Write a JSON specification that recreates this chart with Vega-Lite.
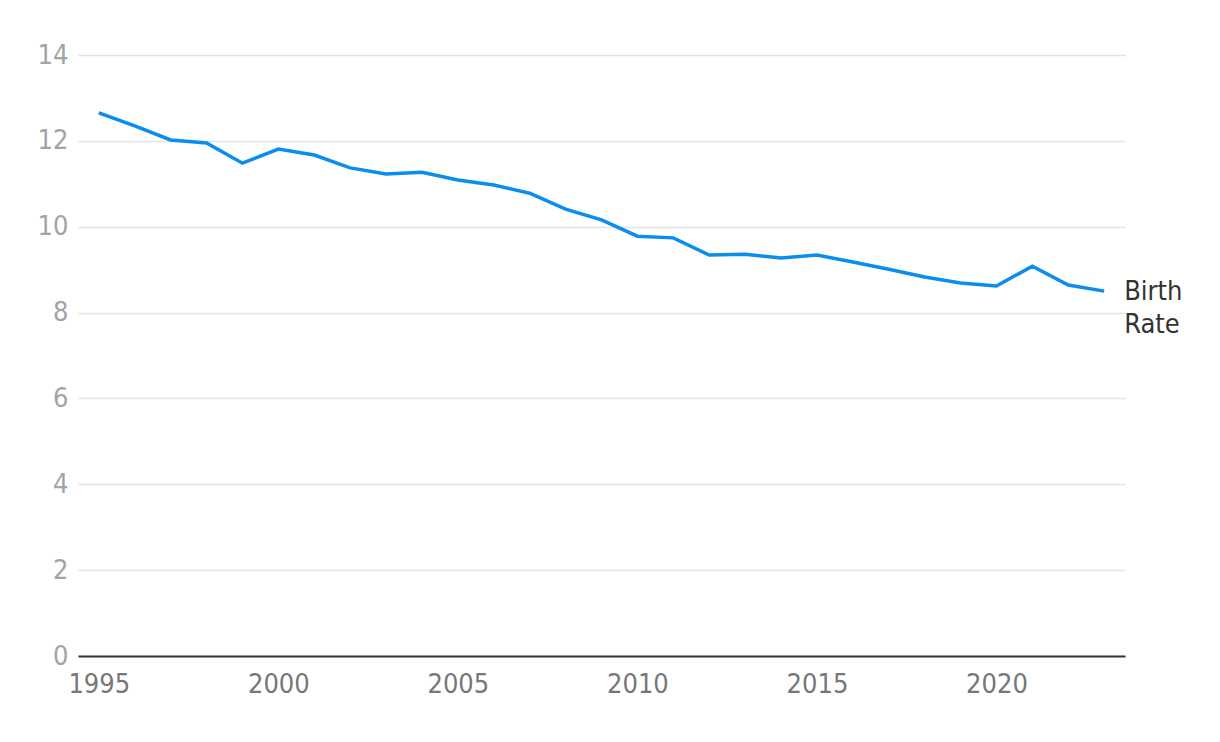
{
  "$schema": "https://vega.github.io/schema/vega-lite/v6.json",
  "autosize": {"type": "none"},
  "width": 1047,
  "height": 601,
  "padding": {"left": 78, "top": 55, "right": 95, "bottom": 86},
  "background": "white",
  "config": {
    "view": {"stroke": null},
    "font": "DejaVu Sans Condensed, Roboto, sans-serif"
  },
  "layer": [
    {
      "data": {"values": [
        {"year": 1995, "rate": 12.65},
        {"year": 1996, "rate": 12.35},
        {"year": 1997, "rate": 12.02},
        {"year": 1998, "rate": 11.95},
        {"year": 1999, "rate": 11.48},
        {"year": 2000, "rate": 11.81},
        {"year": 2001, "rate": 11.67},
        {"year": 2002, "rate": 11.37},
        {"year": 2003, "rate": 11.23},
        {"year": 2004, "rate": 11.27},
        {"year": 2005, "rate": 11.09},
        {"year": 2006, "rate": 10.97},
        {"year": 2007, "rate": 10.78},
        {"year": 2008, "rate": 10.41},
        {"year": 2009, "rate": 10.16},
        {"year": 2010, "rate": 9.78},
        {"year": 2011, "rate": 9.74},
        {"year": 2012, "rate": 9.34},
        {"year": 2013, "rate": 9.36},
        {"year": 2014, "rate": 9.27},
        {"year": 2015, "rate": 9.34},
        {"year": 2016, "rate": 9.18},
        {"year": 2017, "rate": 9.01},
        {"year": 2018, "rate": 8.83},
        {"year": 2019, "rate": 8.69},
        {"year": 2020, "rate": 8.62},
        {"year": 2021, "rate": 9.08},
        {"year": 2022, "rate": 8.64},
        {"year": 2023, "rate": 8.50}
      ]},
      "mark": {"type": "line", "color": "#0a8ded", "strokeWidth": 3.5, "strokeJoin": "miter"},
      "encoding": {
        "x": {
          "field": "year", "type": "quantitative",
          "scale": {"domain": [1994.42, 2023.58], "nice": false, "zero": false},
          "axis": {
            "title": null, "values": [1995, 2000, 2005, 2010, 2015, 2020], "format": "d",
            "grid": false, "ticks": false, "domain": true, "domainColor": "#333333", "domainWidth": 2,
            "labelFontSize": 27, "labelColor": "#777777", "labelPadding": 15, "labelFlush": false
          }
        },
        "y": {
          "field": "rate", "type": "quantitative",
          "scale": {"domain": [0, 14], "nice": false},
          "axis": {
            "title": null, "values": [0, 2, 4, 6, 8, 10, 12, 14],
            "grid": true, "gridColor": "#e3e3e3", "gridWidth": 1.5,
            "ticks": false, "domain": false,
            "labelFontSize": 27, "labelColor": "#a3a3a3", "labelPadding": 10
          }
        }
      }
    },
    {
      "data": {"values": [{"year": 2023, "rate": 8.5, "label": "Birth Rate"}]},
      "mark": {"type": "text", "text": ["Birth", "Rate"], "align": "left", "baseline": "top", "dx": 20, "dy": -12, "fontSize": 27, "lineHeight": 33, "color": "#333333"},
      "encoding": {
        "x": {"field": "year", "type": "quantitative"},
        "y": {"field": "rate", "type": "quantitative"}
      }
    }
  ]
}
